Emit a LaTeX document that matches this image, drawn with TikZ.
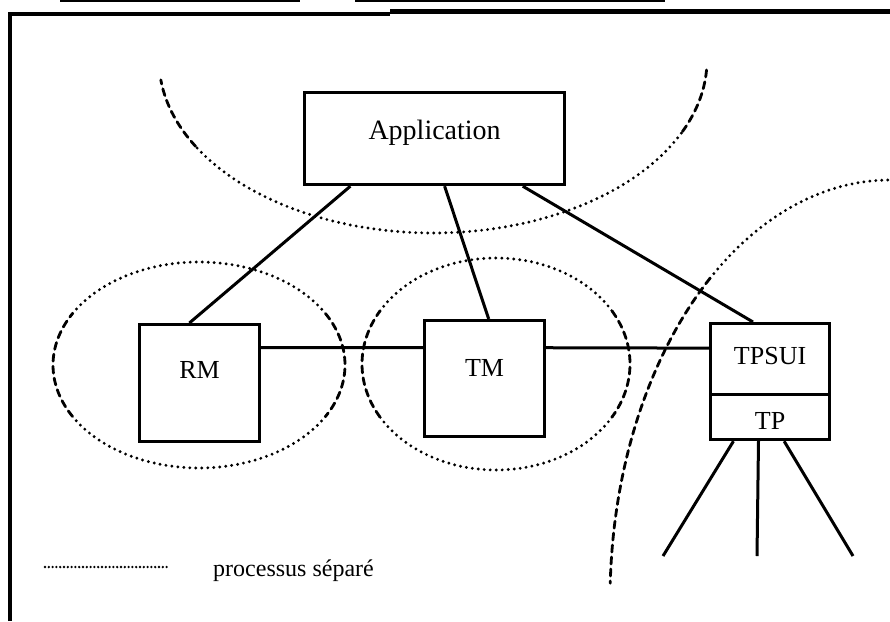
\documentclass[tikz,border=0pt]{standalone}
\usepackage{fontspec}
\setmainfont{Liberation Serif}
\usetikzlibrary{calc}
\begin{document}
\begin{tikzpicture}[x=1pt,y=-1pt,
  box/.style={draw, line width=3.2pt, inner sep=0pt, anchor=north west,
    font=\fontsize{26}{30}\selectfont},
  link/.style={line width=3pt},
  dotline/.style={line width=3.2pt, line cap=round, dash pattern=on 0pt off 6pt},
  dashline/.style={line width=2.8pt, line cap=round, dash pattern=on 7pt off 5pt},
  legdot/.style={line width=2.6pt, line cap=round, dash pattern=on 0pt off 3.8pt},
  framel/.style={line width=4pt}]
\useasboundingbox (0,0) rectangle (890,621);
% frame
\draw[framel] (10,621) -- (10,13.5) -- (390,13.5);
\draw[line width=4.8pt] (390,11.5) -- (890,11.5);
\draw[line width=1.4pt] (60,1) -- (300,1);
\draw[line width=1.4pt] (355,1) -- (665,1);
% boxes
\node[box, font=\fontsize{28}{32}\selectfont, minimum width=260pt, text height=47pt, text depth=45pt] (app) at (303,91) {Application};
\node[box, minimum width=120pt, text height=54pt, text depth=63pt] (rm) at (138,323) {RM};
\node[box, minimum width=120pt, text height=56pt, text depth=60pt] (tm) at (423,319) {TM};
\node[box, minimum width=119pt, text height=41pt, text depth=30pt] (tpsui) at (709,322) {TPSUI};
\node[box, minimum width=119pt, text height=35pt, text depth=10pt] (tp) at (709,393) {TP};
% connectors
\draw[link] ($(app.south west)!0.18!(app.south east)$) -- ($(rm.north west)!0.417!(rm.north east)$);
\draw[link] ($(app.south west)!0.538!(app.south east)$) -- ($(tm.north west)!0.533!(tm.north east)$);
\draw[link] ($(app.south west)!0.835!(app.south east)$) -- ($(tpsui.north west)!0.36!(tpsui.north east)$);
\draw[link] ($(rm.north east)!0.205!(rm.south east)$) -- ($(tm.north west)!0.241!(tm.south west)$);
\draw[link] ($(tm.north east)!0.241!(tm.south east)$) -- ($(tpsui.north west)!0.352!(tpsui.south west)$);
\coordinate (l1) at (663,556);
\coordinate (l2) at (757,556);
\coordinate (l3) at (853,556);
\draw[link] ($(tp.south west)!0.2!(tp.south east)$) -- (l1);
\draw[link] ($(tp.south west)!0.405!(tp.south east)$) -- (l2);
\draw[link] ($(tp.south west)!0.615!(tp.south east)$) -- (l3);
% process ellipses
\draw[dotline] plot[domain=30:150,samples=60] ({199+146*cos(\x)},{365+103*sin(\x)});
\draw[dashline] plot[domain=150:210,samples=40] ({199+146*cos(\x)},{365+103*sin(\x)});
\draw[dotline] plot[domain=210:330,samples=60] ({199+146*cos(\x)},{365+103*sin(\x)});
\draw[dashline] plot[domain=330:390,samples=40] ({199+146*cos(\x)},{365+103*sin(\x)});
\draw[dotline] plot[domain=30:150,samples=60] ({496+134*cos(\x)},{364+106*sin(\x)});
\draw[dashline] plot[domain=150:210,samples=40] ({496+134*cos(\x)},{364+106*sin(\x)});
\draw[dotline] plot[domain=210:330,samples=60] ({496+134*cos(\x)},{364+106*sin(\x)});
\draw[dashline] plot[domain=330:390,samples=40] ({496+134*cos(\x)},{364+106*sin(\x)});
% top arc
\draw[dashline] plot[domain=3.3:25,samples=30] ({433+274*cos(\x)},{60+173*sin(\x)});
\draw[dotline] plot[domain=25:150,samples=100] ({433+274*cos(\x)},{60+173*sin(\x)});
\draw[dashline] plot[domain=150:173.4,samples=30] ({433+274*cos(\x)},{60+173*sin(\x)});
% right arc
\draw[dotline] plot[domain=88:130,samples=50] ({890+280*cos(\x)},{600-420*sin(\x)});
\draw[dashline] plot[domain=130:177.7,samples=50] ({890+280*cos(\x)},{600-420*sin(\x)});
% legend
\coordinate (lg1) at (45,567);
\coordinate (lg2) at (168,567);
\draw[legdot] (lg1) -- (lg2);
\node[anchor=base west, inner sep=0pt, font=\fontsize{24}{28}\selectfont] (lgtxt) at (213,576) {processus séparé};
\end{tikzpicture}
\end{document}
